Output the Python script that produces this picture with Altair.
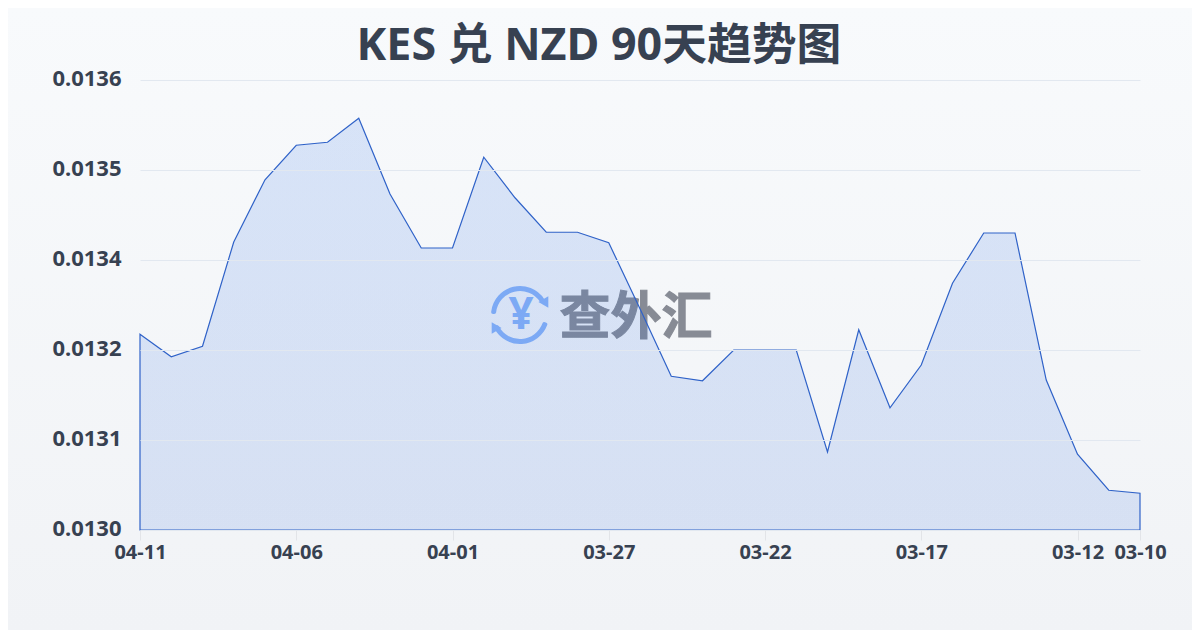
import altair as alt
import pandas as pd

dates = ["04-11","04-10","04-09","04-08","04-07","04-06","04-05","04-04","04-03","04-02","04-01",
         "03-31","03-30","03-29","03-28","03-27","03-26","03-25","03-24","03-23","03-22","03-21",
         "03-20","03-19","03-18","03-17","03-16","03-15","03-14","03-13","03-12","03-11","03-10"]
rates = [0.013261,0.013231,0.013245,0.013384,0.013467,0.013513,0.013517,0.013549,0.013448,0.013376,0.013376,
         0.013497,0.013443,0.013397,0.013397,0.013383,0.013295,0.013205,0.013199,0.013240,0.013240,0.013240,
         0.013104,0.013267,0.013163,0.013220,0.013329,0.013396,0.013396,0.013200,0.013101,0.013053,0.013049]
x_labels = ["04-11","04-06","04-01","03-27","03-22","03-17","03-12","03-10"]
y_ticks = [0.0130,0.01312,0.01324,0.01336,0.01348,0.0136]
y_floor = 0.0130
title_text = "KES 兑 NZD 90天趋势图"
brand = "查外汇"

W, H = 1000, 450
L, T = 132, 72
TOTAL_W, TOTAL_H = 1184, 622
FONT = "Noto Sans, Noto Sans CJK SC, sans-serif"
INK = "#374151"
ICON = "#8ab4f8"

df = pd.DataFrame({"date": dates, "rate": rates, "base": [y_floor] * len(dates)})
one = pd.DataFrame({"a": [0]})

bg = alt.Chart(one).mark_rect(
    fill=alt.Gradient(gradient="linear", x1=0, y1=0, x2=0, y2=1,
                      stops=[alt.GradientStop(color="#f8fafc", offset=0),
                             alt.GradientStop(color="#f1f3f6", offset=1)])
).encode(x=alt.value(-L), x2=alt.value(TOTAL_W - L), y=alt.value(-T), y2=alt.value(TOTAL_H - T))

cx, cy = 520 - 140, 315 - 80
def arc(t1, t2):
    return alt.Chart(one).mark_arc(innerRadius=24, outerRadius=29, theta=t1, theta2=t2, cornerRadius=2,
                                   color=ICON).encode(x=alt.value(cx), y=alt.value(cy))
arc1 = arc(4.75, 7.35)
arc2 = arc(1.85, 4.3)
arrow1 = alt.Chart(one).mark_point(shape="triangle", filled=True, size=130, angle=150, color=ICON, opacity=1).encode(
    x=alt.value(cx + 25), y=alt.value(cy - 13))
arrow2 = alt.Chart(one).mark_point(shape="triangle", filled=True, size=130, angle=330, color=ICON, opacity=1).encode(
    x=alt.value(cx - 25), y=alt.value(cy + 13))
yen = alt.Chart(one).mark_text(text="¥", font=FONT, fontSize=44, fontWeight="bold", color=ICON,
                               align="center", baseline="middle").encode(x=alt.value(cx + 1), y=alt.value(cy + 1))
brand_t = alt.Chart(one).mark_text(text=brand, font="Noto Sans CJK SC", fontSize=51, fontWeight="bold", color="#878b95",
                                   stroke="#878b95", strokeWidth=1,
                                   align="center", baseline="middle").encode(x=alt.value(636 - 140), y=alt.value(319 - 80))

area = alt.Chart(df).mark_area(
    stroke="#2f62c8", strokeWidth=1.2,
    fill=alt.Gradient(gradient="linear", x1=0, y1=0, x2=0, y2=1,
                      stops=[alt.GradientStop(color="rgba(50,115,230,0.16)", offset=0),
                             alt.GradientStop(color="rgba(47,105,220,0.14)", offset=1)])
).encode(
    x=alt.X("date:O", sort=dates, title=None, scale=alt.Scale(type="point", padding=0),
            axis=alt.Axis(values=x_labels, labelAngle=0, labelOverlap=False, grid=False, domain=False,
                          tickColor="#e2e4e8", tickSize=10, labelPadding=2, zindex=1,
                          labelFont=FONT, labelFontSize=20, labelFontWeight="bold", labelColor=INK)),
    y=alt.Y("rate:Q", title=None, scale=alt.Scale(domain=[0.0130, 0.0136], zero=False, nice=False),
            axis=alt.Axis(values=y_ticks, format=".4f", grid=True, gridColor="#e2e8f0", gridWidth=1, domain=False,
                          ticks=False, labelPadding=19, labelOffset=-2, zindex=1,
                          labelFont=FONT, labelFontSize=22, labelFontWeight="bold", labelColor=INK)),
    y2="base:Q",
)

chart = alt.layer(bg, arc1, arc2, arrow1, arrow2, yen, brand_t, area).properties(
    width=W, height=H,
    title=alt.TitleParams(title_text, font=FONT, fontSize=44.8, fontWeight="bold", color="#374151",
                          anchor="middle", dx=-41, offset=-62),
    autosize=alt.AutoSizeParams(type="none"),
    padding={"left": L, "top": T, "right": TOTAL_W - L - W, "bottom": TOTAL_H - T - H},
).configure_view(stroke=None)

chart.save("out.html", embed_options={"renderer": "svg", "actions": False})
